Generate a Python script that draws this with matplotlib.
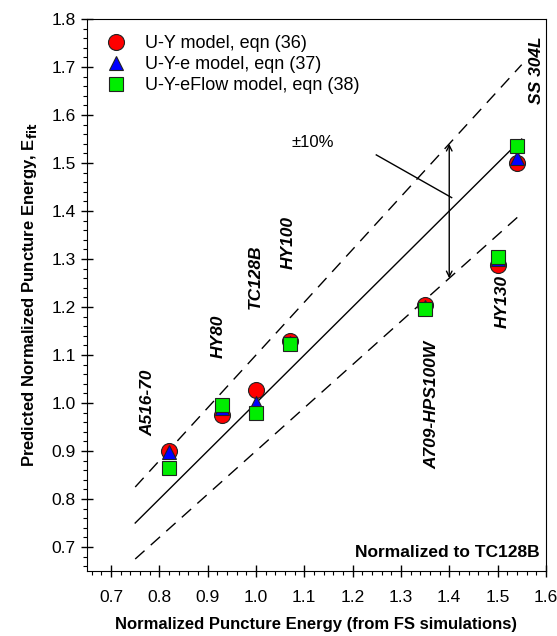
import matplotlib
matplotlib.use("Agg")
import matplotlib.pyplot as plt
from matplotlib.ticker import MultipleLocator
import numpy as np

plt.rcParams['font.family'] = ['Liberation Sans', 'DejaVu Sans']

# Data
materials = ["A516-70", "HY80", "TC128B", "HY100", "A709-HPS100W", "HY130", "SS 304L"]
x_fs = [0.82, 0.93, 1.00, 1.07, 1.35, 1.50, 1.54]
uy = [0.900, 0.975, 1.028, 1.130, 1.205, 1.288, 1.500]
uye = [0.897, 0.990, 1.000, 1.125, 1.200, 1.300, 1.510]
uyeflow = [0.865, 0.995, 0.980, 1.123, 1.195, 1.305, 1.535]

label_x = [0.777, 0.922, 0.999, 1.066, 1.363, 1.509, 1.581]
label_y = [1.000, 1.139, 1.263, 1.334, 0.997, 1.212, 1.694]

line_x = [0.75, 1.55]
xticks = [0.7, 0.8, 0.9, 1.0, 1.1, 1.2, 1.3, 1.4, 1.5, 1.6]
yticks = [0.7, 0.8, 0.9, 1.0, 1.1, 1.2, 1.3, 1.4, 1.5, 1.6, 1.7, 1.8]

fig = plt.figure(figsize=(5.57, 6.36), dpi=100)
ax = fig.add_axes([0.156, 0.1022, 0.824, 0.8678])

lx = np.array(line_x)
ax.plot(lx, lx, color='black', lw=1.0)
ax.plot(lx, 1.1 * lx, color='black', lw=1.0, dashes=(9, 6))
ax.plot(lx, 0.9 * lx, color='black', lw=1.0, dashes=(9, 6))

ax.plot(x_fs, uy, 'o', ms=11.5, mfc='#ff0000', mec='#222222', mew=0.8, ls='none',
        label='U-Y model, eqn (36)')
ax.plot(x_fs, uye, '^', ms=10.5, mfc='#0000ff', mec='#222222', mew=0.8, ls='none',
        label='U-Y-e model, eqn (37)')
ax.plot(x_fs, uyeflow, 's', ms=10.5, mfc='#00ee00', mec='#222222', mew=0.8, ls='none',
        label='U-Y-eFlow model, eqn (38)')

for name, tx, ty in zip(materials, label_x, label_y):
    ax.text(tx, ty, name, rotation=90, ha='center', va='center',
            fontsize=12.5, fontweight='bold', fontstyle='italic')

# ±10% annotation
ax.annotate('', xy=(1.40, 1.54), xytext=(1.40, 1.26),
            arrowprops=dict(arrowstyle='<->', color='black', lw=1.0,
                            shrinkA=0, shrinkB=0, mutation_scale=10))
ax.plot([1.249, 1.405], [1.517, 1.428], color='black', lw=1.0)
ax.text(1.118, 1.542, '±10%', ha='center', va='center', fontsize=12)

ax.text(1.588, 0.672, 'Normalized to TC128B', ha='right', va='bottom',
        fontsize=12.5, fontweight='bold')

ax.set_xticks(xticks)
ax.set_xticklabels([f"{v:.1f}" for v in xticks])
ax.set_yticks(yticks)
ax.set_yticklabels([f"{v:.1f}" for v in yticks])
ax.xaxis.set_minor_locator(MultipleLocator(0.02))
ax.yaxis.set_minor_locator(MultipleLocator(0.02))
ax.set_xlim(0.65, 1.60)
ax.set_ylim(0.65, 1.80)
ax.tick_params(which='major', direction='inout', length=9, width=1, labelsize=12.5)
ax.tick_params(which='minor', direction='out', length=3, width=0.8)
ax.tick_params(axis='x', which='major', pad=9)

ax.set_xlabel('Normalized Puncture Energy (from FS simulations)', fontsize=12,
              fontweight='bold', labelpad=9)
ax.set_ylabel('Predicted Normalized Puncture Energy, E$_{\\mathbf{fit}}$', fontsize=12,
              fontweight='bold', labelpad=9)

ax.legend(loc='upper left', frameon=False, fontsize=13, handletextpad=0.9,
          labelspacing=0.22, borderaxespad=0.5, handlelength=1.4,
          bbox_to_anchor=(0.0, 1.0))

fig.savefig('out.png', dpi=100)
